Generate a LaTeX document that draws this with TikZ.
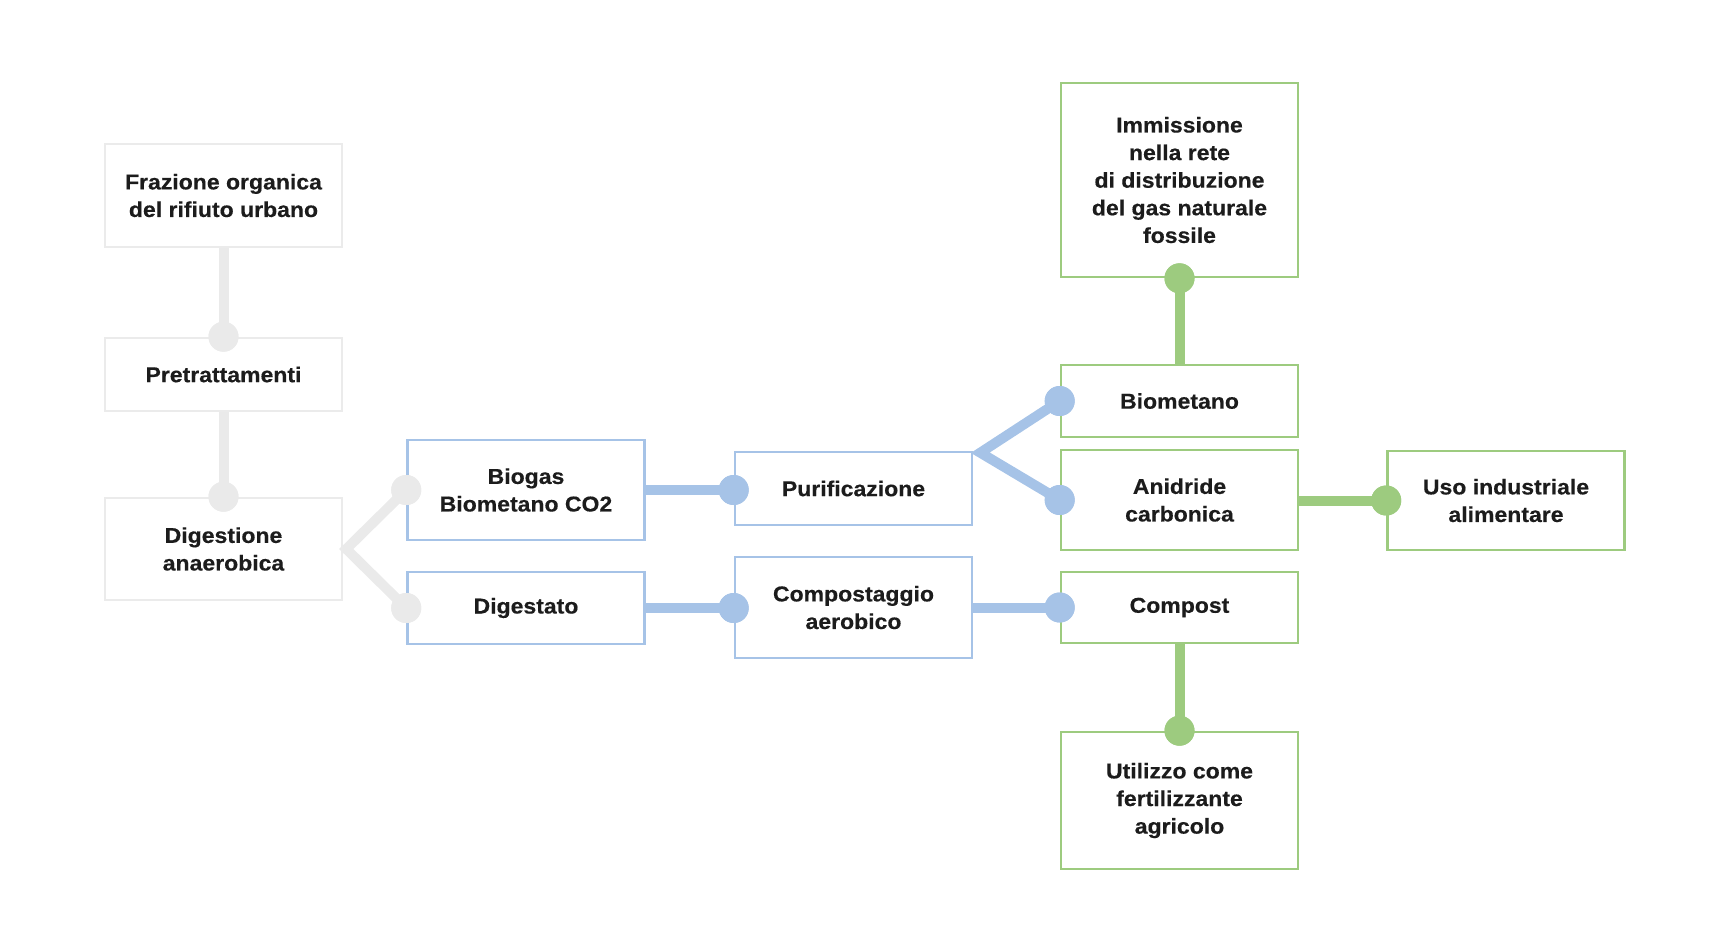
\documentclass[tikz,border=0pt]{standalone}
\usepackage{fontspec}
\setmainfont{Liberation Sans}[FakeStretch=1.07,BoldFeatures={FakeBold=0.4}]
\definecolor{gbox}{HTML}{EBEBEB}
\definecolor{gline}{HTML}{EAEAEA}
\definecolor{bcol}{HTML}{A6C3E7}
\definecolor{gcol}{HTML}{9DCB7F}
\definecolor{txt}{HTML}{1C1C1C}
\begin{document}
\begin{tikzpicture}[x=1pt,y=-1pt,
  box/.style={draw=#1,line width=2.6pt,fill=white,minimum width=237pt,inner sep=0pt,
    align=center,text=txt,font=\bfseries\fontsize{21.5}{27.6}\selectfont},
  dot/.style={circle,fill=#1,minimum size=30pt,inner sep=0pt},
  link/.style={draw=#1,line width=10pt}]
\useasboundingbox (0,0) rectangle (1730,928);
% boxes
\node[box=gbox,minimum height=103pt] (fraz) at (223.5,195.5) {Frazione organica\\del rifiuto urbano};
\node[box=gbox,minimum height=73pt] (pret) at (223.5,374.5) {Pretrattamenti};
\node[box=gbox,minimum height=102pt] (dig) at (223.5,549) {Digestione\\anaerobica};
\node[box=bcol,minimum height=100pt] (biog) at (526,490) {Biogas\\Biometano CO2};
\node[box=bcol,minimum height=72pt] (dgst) at (526,608) {Digestato};
\node[box=bcol,minimum height=73pt] (puri) at (853.5,488.5) {Purificazione};
\node[box=bcol,minimum height=101pt] (comp) at (853.5,607.5) {Compostaggio\\aerobico};
\node[box=gcol,minimum height=194pt] (imm) at (1179.5,180) {Immissione\\nella rete\\di distribuzione\\del gas naturale\\fossile};
\node[box=gcol,minimum height=72pt] (biom) at (1179.5,401) {Biometano};
\node[box=gcol,minimum height=100pt] (anid) at (1179.5,500) {Anidride\\carbonica};
\node[box=gcol,minimum height=71pt] (compost) at (1179.5,607.5) {Compost};
\node[box=gcol,minimum height=137pt] (util) at (1179.5,800.5) {Utilizzo come\\fertilizzante\\agricolo};
\node[box=gcol,minimum height=99pt] (uso) at (1506,500.5) {Uso industriale\\alimentare};
% fork points
\coordinate (f1) at ([xshift=3pt]dig.east);
\coordinate (f2) at ([xshift=7pt,yshift=-2pt]puri.north east);
% connector dots
\node[dot=gline] (c1) at (pret.north) {};
\node[dot=gline] (c2) at (dig.north) {};
\node[dot=gline] (c3) at (biog.west) {};
\node[dot=gline] (c4) at (dgst.west) {};
\node[dot=bcol] (c5) at (puri.west |- biog.west) {};
\node[dot=bcol] (c6) at (comp.west |- dgst.west) {};
\node[dot=bcol] (c7) at (biom.west) {};
\node[dot=bcol] (c8) at (anid.west) {};
\node[dot=bcol] (c9) at (compost.west) {};
\node[dot=gcol] (c10) at (imm.south) {};
\node[dot=gcol] (c11) at (util.north) {};
\node[dot=gcol] (c12) at (uso.west) {};
% connectors
\draw[link=gline] (fraz.south) -- (c1.center);
\draw[link=gline] (pret.south) -- (c2.center);
\draw[link=gline,line join=miter] (c3.center) -- (f1) -- (c4.center);
\draw[link=bcol] (biog.east) -- (c5.center);
\draw[link=bcol] (dgst.east) -- (c6.center);
\draw[link=bcol,line join=miter] (c7.center) -- (f2) -- (c8.center);
\draw[link=bcol] (comp.east |- c9) -- (c9.center);
\draw[link=gcol] (biom.north) -- (c10.center);
\draw[link=gcol] (anid.east |- c12) -- (c12.center);
\draw[link=gcol] (compost.south) -- (c11.center);
% redraw dots on top of the connectors
\foreach \c/\col in {c1/gline,c2/gline,c3/gline,c4/gline,c5/bcol,c6/bcol,c7/bcol,c8/bcol,c9/bcol,c10/gcol,c11/gcol,c12/gcol}
  \fill[\col] (\c.center) circle (15pt);
\end{tikzpicture}
\end{document}
